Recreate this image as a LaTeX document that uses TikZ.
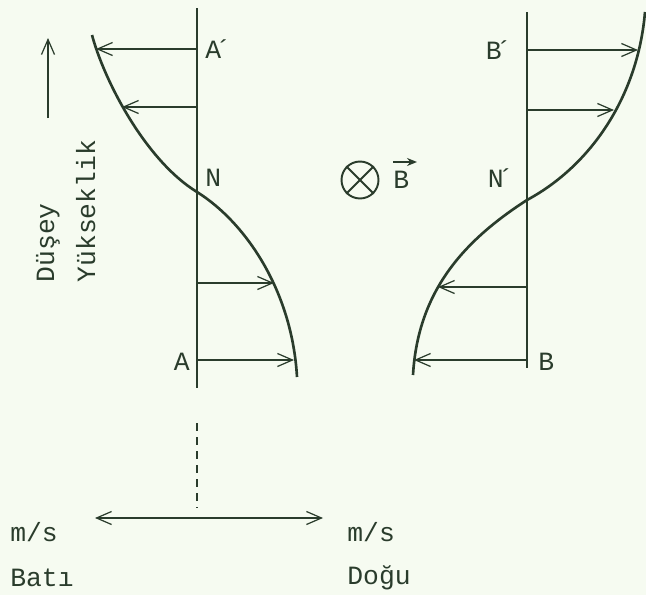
\documentclass[tikz,border=0pt]{standalone}
\usepackage{fontspec}
\setmainfont{Liberation Mono}
\usetikzlibrary{arrows.meta, positioning}
\definecolor{inkgreen}{RGB}{42,60,44}
\definecolor{paper}{RGB}{246,251,241}

\begin{document}
\begin{tikzpicture}[x=0.02cm, y=-0.02cm, color=inkgreen, line width=0.7pt, font=\fontsize{15}{18}\selectfont, vel/.style={-{Straight Barb[length=3mm,width=2.6mm]}}, profile/.style={line width=1.5pt}, lbl/.style={inner sep=1pt}]
  \fill[paper] (0,0) rectangle (646,595);
  \useasboundingbox (0,0) rectangle (646,595);
  % Left profile (A - N - A')
  \coordinate (axAtop) at (197,8);
  \coordinate (axAbot) at (197,388);
  \draw (axAtop) -- (axAbot);
  \coordinate (cA0) at (92,35);
  \coordinate (cAN) at (197,192);
  \coordinate (cA5) at (297,377);
  \draw[profile] (cA0) .. controls (104,80) and (145,160) .. (cAN) .. controls (245,222) and (292,290) .. (cA5);
  \coordinate (a1) at (197,49);  \coordinate (c1) at (96,49);
  \coordinate (a2) at (197,107); \coordinate (c2) at (122,107);
  \coordinate (a3) at (197,283); \coordinate (c3) at (274,283);
  \coordinate (a4) at (197,360); \coordinate (c4) at (294,360);
  \draw[vel] (a1) -- (c1);
  \draw[vel] (a2) -- (c2);
  \draw[vel] (a3) -- (c3);
  \draw[vel] (a4) -- (c4);
  \node[lbl, anchor=west] (Aprime) at (203,49) {A\kern-0.22em´};
  \node[lbl, anchor=west] (N) at (203,178) {N};
  \node[lbl, anchor=east] (A) at (192,362) {A};
  % Right profile (B - N' - B')
  \coordinate (axBtop) at (527,12);
  \coordinate (axBbot) at (527,368);
  \draw (axBtop) -- (axBbot);
  \coordinate (cB0) at (645,12);
  \coordinate (cBN) at (527,200);
  \coordinate (cB5) at (413,375);
  \draw[profile] (cB0) .. controls (638,95) and (592,165) .. (cBN) .. controls (465,240) and (418,290) .. (cB5);
  \coordinate (b1) at (527,50);  \coordinate (d1) at (638,50);
  \coordinate (b2) at (527,110); \coordinate (d2) at (614,110);
  \coordinate (b3) at (527,287); \coordinate (d3) at (438,287);
  \coordinate (b4) at (527,360); \coordinate (d4) at (414,360);
  \draw[vel] (b1) -- (d1);
  \draw[vel] (b2) -- (d2);
  \draw[vel] (b3) -- (d3);
  \draw[vel] (b4) -- (d4);
  \node[lbl, anchor=east] (Bprime) at (514,50) {B\kern-0.22em´};
  \node[lbl, anchor=east] (Nprime) at (516,178) {N\kern-0.22em´};
  \node[lbl, anchor=west] (B) at (536,362) {B};
  % Field into the page
  \node[draw, circle, line width=1.1pt, minimum size=0.74cm, inner sep=0pt] (into) at (360,180) {};
  \draw[line width=1.1pt] (into.north west) -- (into.south east);
  \draw[line width=1.1pt] (into.north east) -- (into.south west);
  \node[lbl, anchor=west] (Bvec) at (391,180) {B};
  \coordinate (bv0) at (393,162);
  \coordinate (bv1) at (417,162);
  \draw[-{Stealth[length=2mm,width=1.6mm]}, line width=1pt] (bv0) -- (bv1);
  % Height axis
  \coordinate (up0) at (48,118);
  \coordinate (up1) at (48,38);
  \draw[vel] (up0) -- (up1);
  \node[inner sep=0pt, rotate=90, anchor=base west] (dusey) at (54,283) {Düşey};
  \node[inner sep=0pt, rotate=90, anchor=base west] (yukseklik) at (95,283) {Yükseklik};
  % Speed axis
  \coordinate (dash0) at (197,423);
  \coordinate (dash1) at (197,508);
  \draw[dash pattern=on 4.5pt off 3.5pt] (dash0) -- (dash1);
  \coordinate (west) at (95,518);
  \coordinate (east) at (323,518);
  \draw[{Straight Barb[length=3mm,width=2.6mm]}-{Straight Barb[length=3mm,width=2.6mm]}] (west) -- (east);
  \node[lbl, anchor=west] (msW) at (8,532) {m/s};
  \node[lbl, anchor=west] (bati) at (8,578) {Batı};
  \node[lbl, anchor=west] (msE) at (345,532) {m/s};
  \node[lbl, anchor=west] (dogu) at (345,578) {Doğu};
\end{tikzpicture}
\end{document}
